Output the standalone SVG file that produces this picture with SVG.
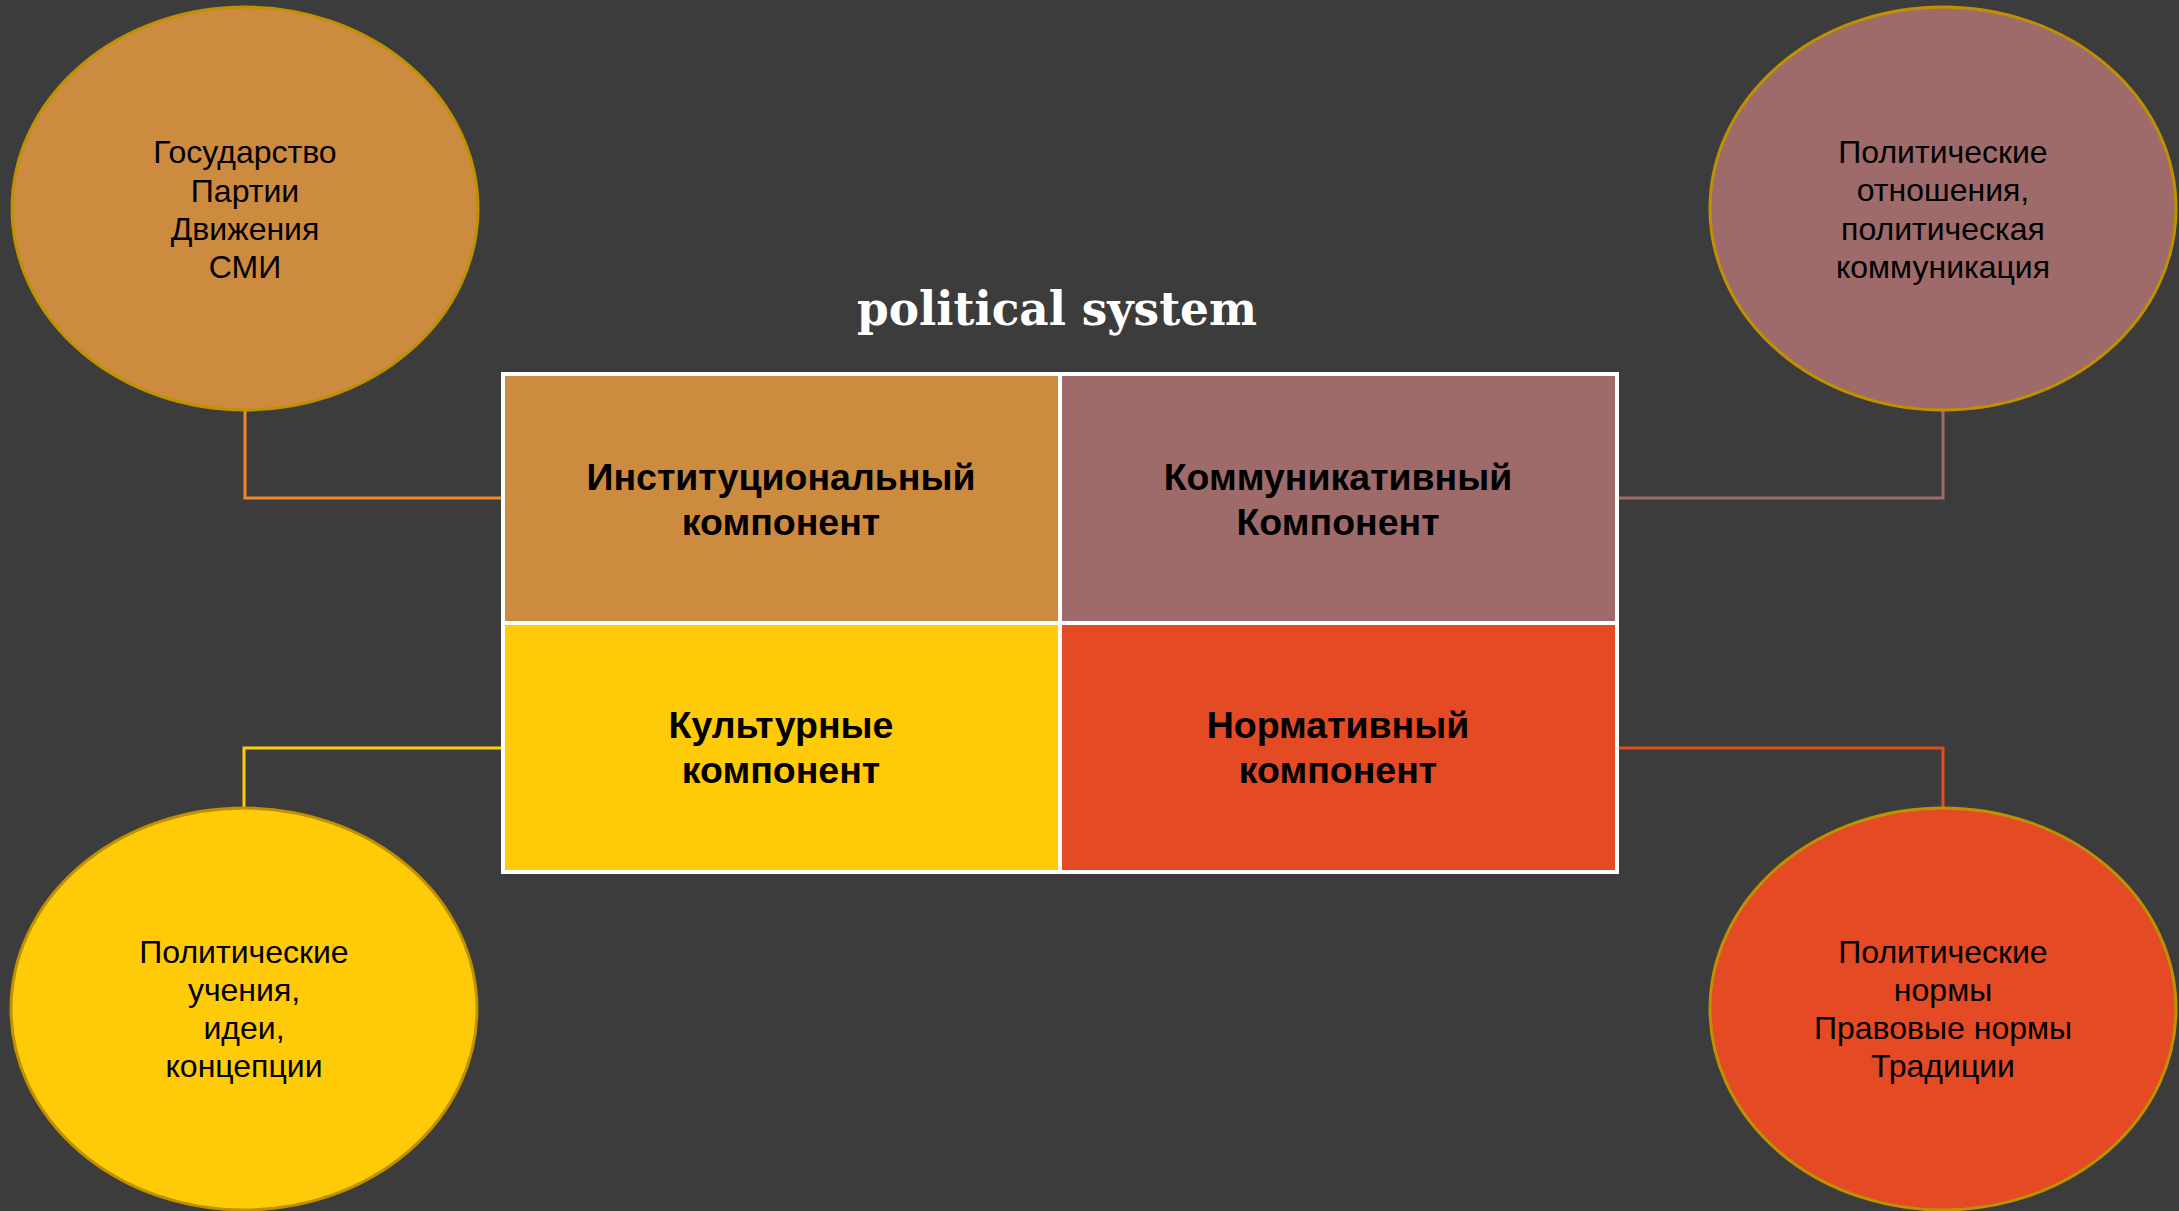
<svg xmlns="http://www.w3.org/2000/svg" width="2179" height="1211" viewBox="0 0 2179 1211">
<style>
.bg{fill:#3c3c3c}
.ell{stroke:#bf9000;stroke-width:3}
.et{font-family:"Liberation Sans",Arial,sans-serif;font-size:32px;fill:#000;text-anchor:middle}
.bt{font-family:"Liberation Sans",Arial,sans-serif;font-size:37.5px;font-weight:bold;fill:#000;text-anchor:middle}
.cell{stroke:#fff;stroke-width:4}
.con{fill:none;stroke-width:3}
.title{font-family:"DejaVu Serif","Liberation Serif",serif;font-size:46px;font-weight:bold;fill:#fff;text-anchor:middle}
</style>
<rect class="bg" x="0" y="0" width="2179" height="1211"/>
<text class="title" x="1057" y="325" textLength="400" lengthAdjust="spacingAndGlyphs">political system</text>
<g id="connectors">
<path class="con" d="M245 410 V498 H502" stroke="#ee8a22"/>
<path class="con" d="M1618 498 H1943 V410" stroke="#9e6a6a"/>
<path class="con" d="M502 748 H244 V808" stroke="#ffcb08"/>
<path class="con" d="M1618 748 H1943 V808" stroke="#e44a23"/>
</g>
<g id="cell-institutional">
<rect class="cell" x="503" y="374" width="557" height="249" fill="#cd8b3f"/>
<text class="bt" x="781" y="490">Институциональный</text>
<text class="bt" x="781" y="535">компонент</text>
</g>
<g id="cell-communicative">
<rect class="cell" x="1060" y="374" width="557" height="249" fill="#9e6a6a"/>
<text class="bt" x="1338" y="490">Коммуникативный</text>
<text class="bt" x="1338" y="535">Компонент</text>
</g>
<g id="cell-cultural">
<rect class="cell" x="503" y="623" width="557" height="249" fill="#ffcb08"/>
<text class="bt" x="781" y="738">Культурные</text>
<text class="bt" x="781" y="783">компонент</text>
</g>
<g id="cell-normative">
<rect class="cell" x="1060" y="623" width="557" height="249" fill="#e44a23"/>
<text class="bt" x="1338" y="738">Нормативный</text>
<text class="bt" x="1338" y="783">компонент</text>
</g>
<g id="ellipse-tl">
<ellipse class="ell" cx="245" cy="208.5" rx="233" ry="201.5" fill="#cd8b3f"/>
<text class="et" x="245" y="163">Государство</text>
<text class="et" x="245" y="202">Партии</text>
<text class="et" x="245" y="240">Движения</text>
<text class="et" x="245" y="278">СМИ</text>
</g>
<g id="ellipse-tr">
<ellipse class="ell" cx="1943" cy="208.5" rx="233" ry="201.5" fill="#9e6a6a"/>
<text class="et" x="1943" y="163">Политические</text>
<text class="et" x="1943" y="201">отношения,</text>
<text class="et" x="1943" y="240">политическая</text>
<text class="et" x="1943" y="278">коммуникация</text>
</g>
<g id="ellipse-bl">
<ellipse class="ell" cx="244" cy="1009" rx="233" ry="201" fill="#ffcb08"/>
<text class="et" x="244" y="963">Политические</text>
<text class="et" x="244" y="1001">учения,</text>
<text class="et" x="244" y="1039">идеи,</text>
<text class="et" x="244" y="1077">концепции</text>
</g>
<g id="ellipse-br">
<ellipse class="ell" cx="1943" cy="1009" rx="233" ry="201" fill="#e44a23"/>
<text class="et" x="1943" y="963">Политические</text>
<text class="et" x="1943" y="1001">нормы</text>
<text class="et" x="1943" y="1039">Правовые нормы</text>
<text class="et" x="1943" y="1077">Традиции</text>
</g>
</svg>
